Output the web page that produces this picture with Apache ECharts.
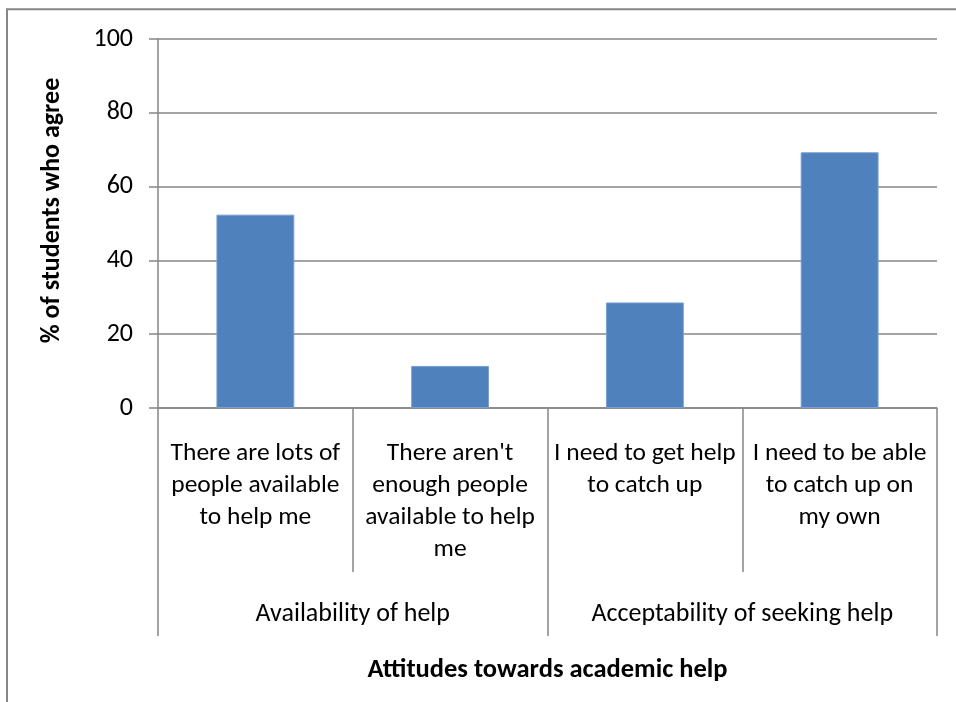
<!DOCTYPE html>
<html>
<head>
<meta charset="utf-8">
<title>Attitudes towards academic help</title>
<script src="https://cdn.jsdelivr.net/npm/echarts@6/dist/echarts.min.js"></script>
<style>
  html, body { margin: 0; padding: 0; background: #ffffff; }
  #chart { width: 956px; height: 702px; }
</style>
</head>
<body>
<div id="chart"></div>
<script>
// Statements (one bar each), the theme each belongs to, and the share agreeing
const categories = [
  "There are lots of\npeople available\nto help me",
  "There aren't\nenough people\navailable to help\nme",
  "I need to get help\nto catch up",
  "I need to be able\nto catch up on\nmy own"
];
const groups = ["Availability of help", "Acceptability of seeking help"];
const agreePct = [52.4, 11.4, 28.6, 69.3];
const yTicks = { min: 0, max: 100, interval: 20 };

const FONT = 'Carlito, Lato, "Open Sans", sans-serif';
const LINE = '#868686';
const TEXT = '#000000';

const chart = echarts.init(document.getElementById('chart'), null, { renderer: 'canvas' });

chart.setOption({
  animation: false,
  backgroundColor: '#ffffff',
  textStyle: { fontFamily: FONT },
  graphic: [{
    // outer chart frame (extends past the right/bottom edge of the view)
    type: 'rect',
    shape: { x: 7, y: 9.2, width: 1000, height: 800 },
    style: { fill: null, stroke: LINE, lineWidth: 2 },
    silent: true
  }],
  grid: { left: 158, top: 39, right: 19, bottom: 294, containLabel: false },
  xAxis: [{
    type: 'category',
    data: categories,
    position: 'bottom',
    axisLine: { show: true, lineStyle: { color: LINE, width: 1.5 } },
    axisTick: { show: true, length: 164, alignWithLabel: false, lineStyle: { color: LINE, width: 1.5 } },
    axisLabel: {
      interval: 0, margin: 29, color: TEXT, fontFamily: FONT, fontSize: 25.5,
      lineHeight: 32.3, align: 'center', verticalAlign: 'top'
    },
    splitLine: { show: false }
  }, {
    type: 'category',
    data: groups,
    position: 'bottom',
    axisLine: { show: false },
    axisTick: { show: true, length: 228, lineStyle: { color: LINE, width: 1.5 } },
    axisLabel: {
      interval: 0, margin: 190, color: TEXT, fontFamily: FONT, fontSize: 26,
      lineHeight: 32, verticalAlign: 'top'
    },
    name: 'Attitudes towards academic help',
    nameLocation: 'middle',
    nameGap: 246,
    nameTextStyle: { color: TEXT, fontFamily: FONT, fontSize: 26.5, fontWeight: 'bold', lineHeight: 32, verticalAlign: 'top' },
    splitLine: { show: false }
  }],
  yAxis: {
    type: 'value',
    min: yTicks.min, max: yTicks.max, interval: yTicks.interval,
    axisLine: { show: true, lineStyle: { color: LINE, width: 1.5 } },
    axisTick: { show: true, length: 9, lineStyle: { color: LINE, width: 1.5 } },
    axisLabel: { margin: 25, color: TEXT, fontFamily: FONT, fontSize: 26 },
    splitLine: { show: true, lineStyle: { color: LINE, width: 1.5 } },
    name: '% of students who agree',
    nameLocation: 'middle',
    nameGap: 93,
    nameRotate: 90,
    nameTextStyle: { color: TEXT, fontFamily: FONT, fontSize: 26, fontWeight: 'bold', padding: [0, 0, 0, 26] }
  },
  series: [{
    type: 'bar',
    xAxisIndex: 0,
    data: agreePct,
    barWidth: '40%',
    itemStyle: { color: '#4F81BD', borderColor: '#7A9FD0', borderWidth: 1 },
    silent: true
  }]
});
</script>
</body>
</html>
